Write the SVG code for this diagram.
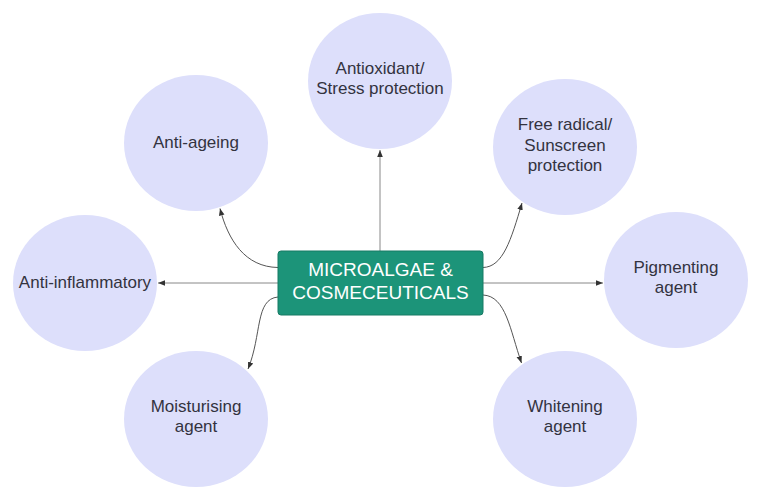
<svg xmlns="http://www.w3.org/2000/svg" width="757" height="502" viewBox="0 0 757 502">
<style>
.c{fill:#dddffb;stroke:none}
.t{font-family:"Liberation Sans",Arial,sans-serif;font-size:17px;fill:#33333f;text-anchor:middle}
.ct{font-family:"Liberation Sans",Arial,sans-serif;font-size:19px;fill:#ffffff;text-anchor:middle}
.e{fill:none;stroke:#555;stroke-width:1;marker-end:url(#ah)}
.s{fill:none;stroke:#888;stroke-width:1;marker-end:url(#ah)}
</style>
<defs>
<marker id="ah" viewBox="0 0 10 10" refX="10" refY="5" markerWidth="7" markerHeight="7" orient="auto" markerUnits="userSpaceOnUse">
<path d="M0,1 L10,5 L0,9 Z" fill="#333"/>
</marker>
</defs>
<rect width="757" height="502" fill="#ffffff"/>
<g id="connectors">
<path class="s" d="M380,251 L380,150"/>
<path class="s" d="M278,283 L158,283"/>
<path class="s" d="M483,283 L603,283"/>
<path class="e" d="M278,267.5 C245,267 228,240 220,208.5"/>
<path class="e" d="M483,267.5 C503,267 511,240 522,203"/>
<path class="e" d="M278,297 C255,299 262,335 248,369"/>
<path class="e" d="M483,295 C506,296 510,330 521.5,363"/>
</g>
<g id="center">
<rect x="278" y="251" width="205" height="64" rx="3" fill="#1c9479" stroke="#177a64" stroke-width="1"/>
<text class="ct" x="380.5" y="276">MICROALGAE &amp;</text>
<text class="ct" x="380.5" y="298.5">COSMECEUTICALS</text>
</g>
<g id="antioxidant">
<ellipse class="c" cx="380" cy="81" rx="72" ry="68"/>
<text class="t" x="380" y="74">Antioxidant/</text>
<text class="t" x="380" y="94">Stress protection</text>
</g>
<g id="anti-ageing">
<ellipse class="c" cx="196" cy="143" rx="72" ry="68"/>
<text class="t" x="196" y="147.5">Anti-ageing</text>
</g>
<g id="free-radical">
<ellipse class="c" cx="565" cy="147" rx="72" ry="68"/>
<text class="t" x="565" y="130">Free radical/</text>
<text class="t" x="565" y="150.5">Sunscreen</text>
<text class="t" x="565" y="171">protection</text>
</g>
<g id="anti-inflammatory">
<ellipse class="c" cx="85" cy="283" rx="72" ry="68"/>
<text class="t" x="85" y="288">Anti-inflammatory</text>
</g>
<g id="pigmenting">
<ellipse class="c" cx="676" cy="280" rx="72" ry="68"/>
<text class="t" x="676" y="273">Pigmenting</text>
<text class="t" x="676" y="293">agent</text>
</g>
<g id="moisturising">
<ellipse class="c" cx="196" cy="419" rx="72" ry="68"/>
<text class="t" x="196" y="412">Moisturising</text>
<text class="t" x="196" y="432">agent</text>
</g>
<g id="whitening">
<ellipse class="c" cx="565" cy="419" rx="72" ry="68"/>
<text class="t" x="565" y="412">Whitening</text>
<text class="t" x="565" y="432">agent</text>
</g>
</svg>
